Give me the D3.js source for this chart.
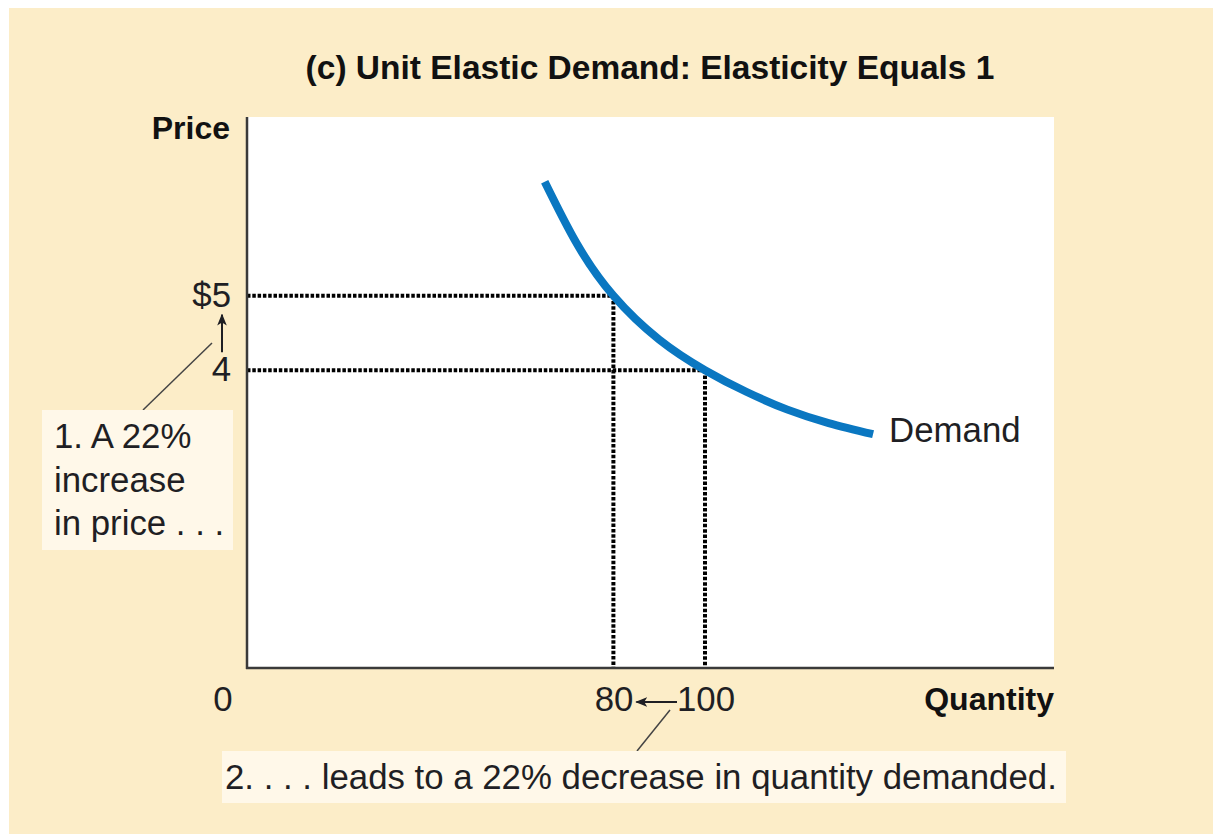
<!DOCTYPE html>
<html>
<head>
<meta charset="utf-8">
<script src="https://cdn.jsdelivr.net/npm/d3@7"></script>
<style>
  html, body { margin: 0; padding: 0; background: #fff; }
  svg { display: block; }
  text { font-family: "Liberation Sans", Arial, sans-serif; fill: #1f1f24; }
</style>
</head>
<body>
<div id="chart"></div>
<script>
'use strict';

// demand curve (quantity, price)
const demandQ = [65, 72, 80, 90, 100, 109, 118, 127, 136.7];
const demandP = [6.53, 5.70, 5, 4.41, 4, 3.71, 3.47, 3.29, 3.14];

// the two marked points on the curve
const pointQ = [80, 100];
const pointP = [5, 4];
const priceLabels = ["$5", "4"];
const qtyLabels = ["80", "100"];

const title = "(c) Unit Elastic Demand: Elasticity Equals 1";
const note1 = ["1. A 22%", "increase", "in price . . ."];
const note2 = "2. . . . leads to a 22% decrease in quantity demanded.";

const W = 1213, H = 834;
const plot = { left: 247, top: 117, right: 1054, bottom: 668 };
const fs = 34.8;

const svg = d3.select("#chart").append("svg")
	.attr("width", W)
	.attr("height", H);

const defs = svg.append("defs");
defs.append("marker")
	.attr("id", "head")
	.attr("viewBox", "0 0 10 10")
	.attr("refX", 9).attr("refY", 5)
	.attr("markerWidth", 6).attr("markerHeight", 6)
	.attr("markerUnits", "strokeWidth")
	.attr("orient", "auto")
	.append("path")
	.attr("d", "M0,1 L10,5 L0,9 L2.5,5 Z")
	.attr("fill", "#1f1f24");

// backgrounds
svg.append("rect")
	.attr("x", 9).attr("y", 8)
	.attr("width", W - 9).attr("height", H - 8)
	.attr("fill", "#fcedc8");

svg.append("rect")
	.attr("x", plot.left).attr("y", plot.top)
	.attr("width", plot.right - plot.left)
	.attr("height", plot.bottom - plot.top)
	.attr("fill", "#fff");

const x = d3.scaleLinear().domain([0, 176.2]).range([plot.left, plot.right]);
const y = d3.scaleLinear().domain([0, 7.4]).range([plot.bottom, plot.top]);

// title
svg.append("text")
	.attr("x", 650).attr("y", 79)
	.attr("text-anchor", "middle")
	.attr("font-size", 33.5)
	.attr("font-weight", "bold")
	.style("fill", "#111")
	.text(title);

// dotted guide lines
const guides = svg.append("g")
	.attr("stroke", "#000")
	.attr("stroke-width", 4)
	.attr("stroke-dasharray", "3.5,1.8")
	.attr("fill", "none");

pointQ.forEach((q, i) => {
	guides.append("line")
		.attr("x1", x(0)).attr("x2", x(q))
		.attr("y1", y(pointP[i])).attr("y2", y(pointP[i]));
	guides.append("line")
		.attr("x1", x(q)).attr("x2", x(q))
		.attr("y1", y(pointP[i])).attr("y2", y(0));
});

// demand curve
const demand = demandQ.map((q, i) => [q, demandP[i]]);
svg.append("path")
	.datum(demand)
	.attr("fill", "none")
	.attr("stroke", "#0a77c1")
	.attr("stroke-width", 8)
	.attr("d", d3.line()
		.x(d => x(d[0]))
		.y(d => y(d[1]))
		.curve(d3.curveNatural));

svg.append("text")
	.attr("x", x(demandQ[demandQ.length - 1]) + 16)
	.attr("y", y(demandP[demandP.length - 1]) + 8)
	.attr("font-size", fs)
	.text("Demand");

// axes
const axes = svg.append("g")
	.attr("stroke", "#3a3a3a")
	.attr("stroke-width", 2.5);
axes.append("line")
	.attr("x1", x(0)).attr("x2", x(0))
	.attr("y1", plot.top).attr("y2", plot.bottom + 1);
axes.append("line")
	.attr("x1", x(0) - 1).attr("x2", plot.right)
	.attr("y1", plot.bottom).attr("y2", plot.bottom);

svg.append("text")
	.attr("x", 230).attr("y", 139)
	.attr("text-anchor", "end")
	.attr("font-size", 32)
	.attr("font-weight", "bold")
	.style("fill", "#111")
	.text("Price");

svg.append("text")
	.attr("x", plot.right).attr("y", 710)
	.attr("text-anchor", "end")
	.attr("font-size", 32)
	.attr("font-weight", "bold")
	.style("fill", "#111")
	.text("Quantity");

// price tick labels
svg.selectAll(".plabel")
	.data(pointP)
	.join("text")
	.attr("class", "plabel")
	.attr("x", 231)
	.attr("y", d => y(d) + 11)
	.attr("text-anchor", "end")
	.attr("font-size", fs)
	.text((d, i) => priceLabels[i]);

// quantity tick labels
svg.append("text")
	.attr("x", 223).attr("y", 711)
	.attr("text-anchor", "middle")
	.attr("font-size", fs)
	.text("0");

svg.append("text")
	.attr("x", x(pointQ[0]) + 20).attr("y", 711)
	.attr("text-anchor", "end")
	.attr("font-size", fs)
	.text(qtyLabels[0]);

svg.append("text")
	.attr("x", x(pointQ[1]) - 28).attr("y", 711)
	.attr("text-anchor", "start")
	.attr("font-size", fs)
	.text(qtyLabels[1]);

// arrows between tick labels
const arrows = svg.append("g")
	.attr("stroke", "#1f1f24")
	.attr("stroke-width", 2);
arrows.append("line")
	.attr("x1", 222).attr("x2", 222)
	.attr("y1", y(pointP[1]) - 18).attr("y2", y(pointP[0]) + 19)
	.attr("marker-end", "url(#head)");
arrows.append("line")
	.attr("x1", x(pointQ[1]) - 28).attr("x2", x(pointQ[0]) + 23)
	.attr("y1", 702).attr("y2", 702)
	.attr("marker-end", "url(#head)");

// leader lines
const leaders = svg.append("g")
	.attr("stroke", "#444")
	.attr("stroke-width", 1.5);
leaders.append("line")
	.attr("x1", 212).attr("y1", 343)
	.attr("x2", 143).attr("y2", 410);
leaders.append("line")
	.attr("x1", 670).attr("y1", 710)
	.attr("x2", 637).attr("y2", 751);

// note boxes
svg.append("rect")
	.attr("x", 42).attr("y", 410)
	.attr("width", 191).attr("height", 140)
	.attr("fill", "#fff8e9");

svg.append("text")
	.attr("font-size", fs)
	.selectAll("tspan")
	.data(note1)
	.join("tspan")
	.attr("x", 54)
	.attr("y", (d, i) => 448 + i * 43.5)
	.text(d => d);

svg.append("rect")
	.attr("x", 222).attr("y", 751)
	.attr("width", 844).attr("height", 52)
	.attr("fill", "#fff8e9");

svg.append("text")
	.attr("x", 225).attr("y", 789)
	.attr("font-size", fs)
	.text(note2);
</script>
</body>
</html>
